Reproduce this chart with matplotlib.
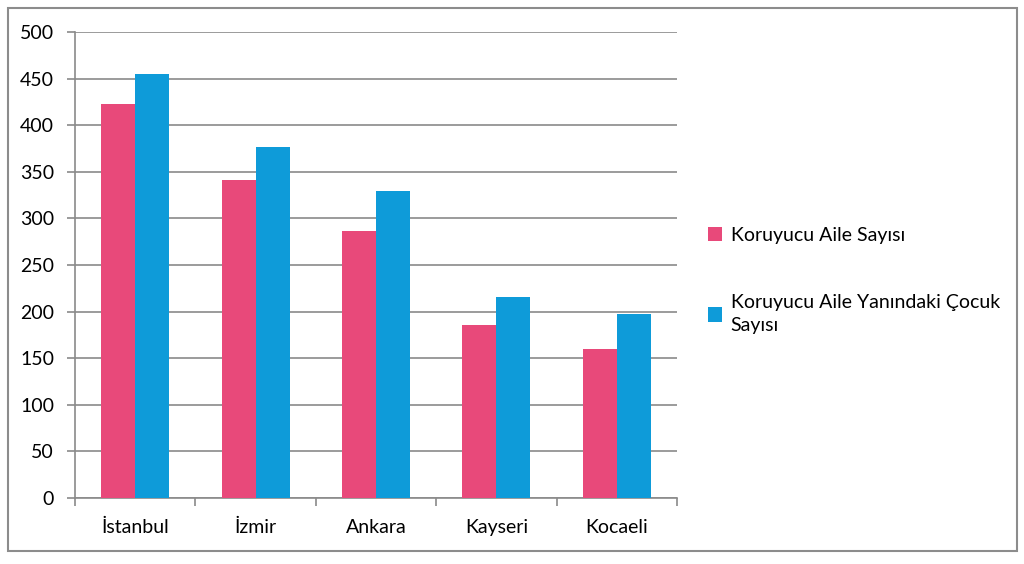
import matplotlib
matplotlib.use("Agg")
import matplotlib.pyplot as plt
from matplotlib.patches import Rectangle
import numpy as np

categories = ["İstanbul", "İzmir", "Ankara", "Kayseri", "Kocaeli"]
aile = [423, 341, 287, 186, 160]
cocuk = [455, 377, 329, 216, 197]
series_names = ["Koruyucu Aile Sayısı", "Koruyucu Aile Yanındaki Çocuk\nSayısı"]
yticks = [0, 50, 100, 150, 200, 250, 300, 350, 400, 450, 500]

plt.rcParams['font.family'] = ['Lato', 'DejaVu Sans']

W, H = 1024, 564
fig = plt.figure(figsize=(W / 100, H / 100), dpi=100)
fig.patch.set_facecolor("white")
fig.add_artist(Rectangle((8 / W, 1 - 551 / H), (1017 - 8) / W, (551 - 8) / H,
                         transform=fig.transFigure, fill=False,
                         edgecolor="#8c8c8c", lw=1.5))

ax = fig.add_axes([75 / W, 1 - 498 / H, (677 - 75) / W, (498 - 32) / H])
x = np.arange(len(categories))
bw = 0.283
pink = "#E8497A"
blue = "#0E9BD9"
ax.bar(x - bw / 2, aile, bw, color=pink, label=series_names[0], zorder=3)
ax.bar(x + bw / 2, cocuk, bw, color=blue, label=series_names[1], zorder=3)

fs = 14
ax.set_xlim(-0.5, len(categories) - 0.5)
ax.set_ylim(0, 500)
ax.set_yticks(yticks)
ax.set_yticklabels([str(v) for v in yticks], fontsize=fs)
ax.yaxis.grid(True, color="#8a8a8a", lw=1.2, zorder=0)
ax.set_xticks(x)
ax.set_xticklabels(categories, fontsize=fs)
ax.tick_params(axis='x', length=0, pad=15)
ax.set_xticks(np.arange(-0.5, len(categories), 1.0), minor=True)
ax.tick_params(axis='x', which='minor', length=6, color="#8a8a8a", width=1.2)
ax.tick_params(axis='y', length=6, color="#8a8a8a", width=1.2, pad=9)
for s in ["top", "right"]:
    ax.spines[s].set_visible(False)
for s in ["left", "bottom"]:
    ax.spines[s].set_color("#8a8a8a")
    ax.spines[s].set_linewidth(1.2)

leg = fig.legend(loc="upper left", bbox_to_anchor=(690 / W, 1 - 209 / H),
                 frameon=False, fontsize=fs, handlelength=0.75, handleheight=0.75,
                 handletextpad=0.45, labelspacing=2.6)
for t in leg.get_texts():
    t.set_linespacing(1.45)
fig.savefig("out.png", dpi=100)
